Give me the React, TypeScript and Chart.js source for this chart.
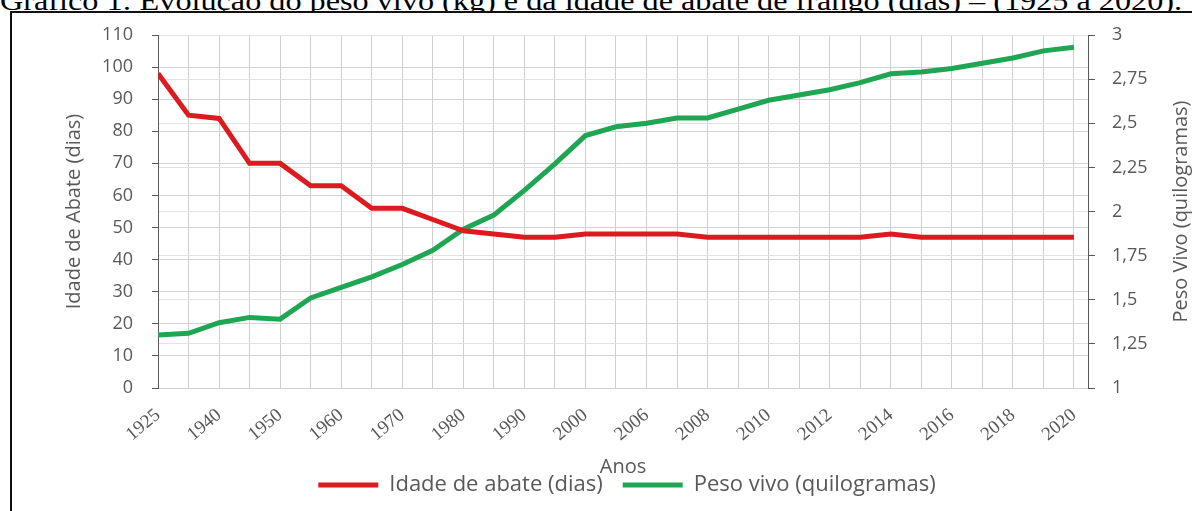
import React, { useEffect, useRef } from 'react';
import { Chart, registerables } from 'chart.js';

Chart.register(...registerables);

const titleText = 'Gráfico 1: Evolução do peso vivo (kg) e da idade de abate de frango (dias) – (1925 a 2020).';

const years = ['1925', '1935', '1940', '1945', '1950', '1955', '1960', '1965', '1970', '1975', '1980', '1985', '1990', '1995', '2000', '2005', '2006', '2007', '2008', '2009', '2010', '2011', '2012', '2013', '2014', '2015', '2016', '2017', '2018', '2019', '2020'];

const idadeAbate = [98, 85, 84, 70, 70, 63, 63, 56, 56, 52.5, 49, 48, 47, 47, 48, 48, 48, 48, 47, 47, 47, 47, 47, 47, 48, 47, 47, 47, 47, 47, 47];

const pesoVivo = [1.30, 1.31, 1.37, 1.40, 1.39, 1.51, 1.57, 1.63, 1.70, 1.78, 1.90, 1.98, 2.12, 2.27, 2.43, 2.48, 2.50, 2.53, 2.53, 2.58, 2.63, 2.66, 2.69, 2.73, 2.78, 2.79, 2.81, 2.84, 2.87, 2.91, 2.93];

const leftTitle = 'Idade de Abate (dias)';
const rightTitle = 'Peso Vivo (quilogramas)';
const xTitle = 'Anos';
const seriesNames = ['Idade de abate (dias)', 'Peso vivo (quilogramas)'];

const RED = '#dc1a1f';
const GREEN = '#1ea653';
const TXT = '#595959';
const SANS = '"Open Sans", sans-serif';
const SERIF = '"Times New Roman", "Liberation Serif", Tinos, serif';

export default function App() {
  const canvasRef = useRef<HTMLCanvasElement | null>(null);
  const titleRef = useRef<HTMLSpanElement | null>(null);

  useEffect(() => {
    if (titleRef.current) {
      const w = titleRef.current.offsetWidth;
      if (w > 0) titleRef.current.style.transform = `scaleX(${1182 / w})`;
    }
    const canvas = canvasRef.current;
    if (!canvas) return;

    const rightTitlePlugin = {
      id: 'rightTitle',
      afterDraw(chart: any) {
        const { ctx, chartArea } = chart;
        const s = chart.scales.y1;
        ctx.save();
        ctx.translate(s.right - 11, (chartArea.top + chartArea.bottom) / 2);
        ctx.rotate(-Math.PI / 2);
        ctx.font = `20px ${SANS}`;
        ctx.fillStyle = TXT;
        ctx.textAlign = 'center';
        ctx.textBaseline = 'middle';
        ctx.fillText(rightTitle, 0, 0);
        ctx.restore();
      },
    };

    const chart = new Chart(canvas, {
      type: 'line',
      data: {
        datasets: [
          {
            label: seriesNames[0],
            data: idadeAbate.map((v, i) => ({ x: i, y: v })),
            borderColor: RED,
            backgroundColor: RED,
            borderWidth: 5,
            pointRadius: 0,
            tension: 0,
            yAxisID: 'y',
          },
          {
            label: seriesNames[1],
            data: pesoVivo.map((v, i) => ({ x: i, y: v })),
            borderColor: GREEN,
            backgroundColor: GREEN,
            borderWidth: 5,
            pointRadius: 0,
            tension: 0,
            yAxisID: 'y1',
          },
        ],
      },
      options: {
        responsive: false,
        animation: false,
        events: [],
        layout: { padding: { left: 62, right: 0, top: 35, bottom: 5 } },
        plugins: {
          tooltip: { enabled: false },
          legend: {
            position: 'bottom',
            labels: {
              boxWidth: 60,
              boxHeight: 5,
              padding: 20,
              color: TXT,
              font: { family: SANS, size: 22 },
              generateLabels: (ch: any) =>
                ch.data.datasets.map((ds: any, i: number) => ({
                  text: ds.label,
                  fillStyle: ds.borderColor,
                  strokeStyle: ds.borderColor,
                  lineWidth: 0,
                  hidden: false,
                  datasetIndex: i,
                  fontColor: TXT,
                })),
            },
          },
        },
        scales: {
          x: {
            type: 'linear',
            min: 0,
            max: years.length - 1 + 0.46,
            afterFit: (s: any) => { s.height = 66; },
            ticks: {
              stepSize: 1,
              includeBounds: false,
              autoSkip: false,
              minRotation: 40,
              maxRotation: 40,
              padding: 16,
              color: TXT,
              font: { family: SERIF, size: 19 },
              callback: (v: any) => (Number.isInteger(v) && v % 2 === 0 && years[v] ? years[v] : ''),
            },
            grid: { color: '#cfcfcf', drawTicks: false, lineWidth: 1 },
            border: { color: '#cfcfcf' },
            title: {
              display: true,
              text: xTitle,
              color: TXT,
              font: { family: SANS, size: 20 },
              padding: { top: 0, bottom: -25 },
            },
          },
          y: {
            position: 'left',
            min: 0,
            max: 110,
            afterFit: (s: any) => { s.width = 96; },
            ticks: { stepSize: 10, padding: 19, color: TXT, font: { family: SANS, size: 18 } },
            grid: { color: '#d2d2d2', tickColor: TXT, tickLength: 6 },
            border: { color: TXT, width: 1 },
            title: {
              display: true,
              text: leftTitle,
              color: TXT,
              font: { family: SANS, size: 20 },
              padding: { top: 0, bottom: 0 },
            },
          },
          y1: {
            position: 'right',
            min: 1,
            max: 3,
            afterFit: (s: any) => { s.width = 104; },
            ticks: {
              stepSize: 0.25,
              padding: 17,
              color: TXT,
              font: { family: SANS, size: 18 },
              callback: (v: any) => String(v).replace('.', ','),
            },
            grid: { color: '#e2e2e2', tickColor: TXT, tickLength: 7 },
            border: { color: TXT, width: 1 },
          },
        },
      },
      plugins: [rightTitlePlugin],
    } as any);

    return () => chart.destroy();
  }, []);

  return (
    <div style={{ position: 'fixed', left: 0, top: 0, width: 1192, height: 511, overflow: 'hidden', background: '#fff' }}>
      <div style={{ position: 'absolute', left: 0, top: -13.5, whiteSpace: 'nowrap', lineHeight: '28px' }}>
        <span
          ref={titleRef}
          style={{ display: 'inline-block', fontFamily: SERIF, fontSize: 28, color: '#000', transformOrigin: 'left center' }}
        >
          {titleText}
        </span>
      </div>
      <div style={{ position: 'absolute', left: 10, top: 11, width: 1200, height: 520, borderLeft: '2px solid #111', borderTop: '2px solid #111', background: '#fff' }} />
      <canvas ref={canvasRef} width={1192} height={511} style={{ position: 'absolute', left: 0, top: 0, width: 1192, height: 511 }} />
    </div>
  );
}
